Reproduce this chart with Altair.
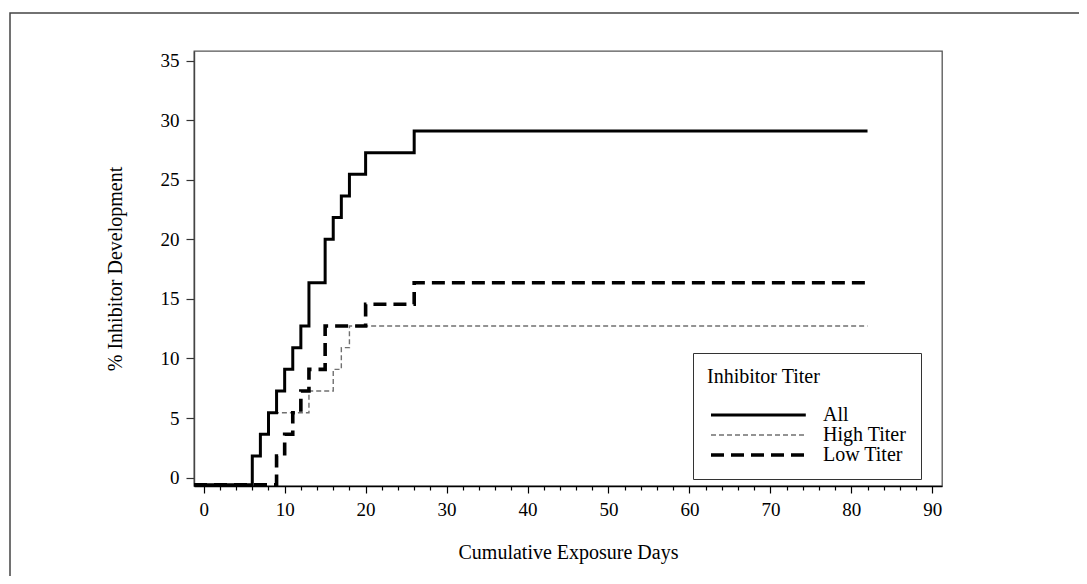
import altair as alt
import pandas as pd

FONT = "Liberation Serif"

series_names = ["All", "High Titer", "Low Titer"]

all_days = [-1.2, 6, 7, 8, 9, 10, 11, 12, 13, 15, 16, 17, 18, 20, 26, 82]
all_pct = [-0.6, 1.82, 3.64, 5.45, 7.27, 9.09, 10.91, 12.73, 16.36, 20.0,
           21.82, 23.64, 25.45, 27.27, 29.09, 29.09]

high_days = [-1.2, 6, 7, 8, 13, 16, 17, 18, 82]
high_pct = [-0.6, 1.82, 3.64, 5.45, 7.27, 9.09, 10.91, 12.73, 12.73]

low_days = [-1.2, 9, 10, 11, 12, 13, 15, 20, 26, 82]
low_pct = [-0.6, 1.82, 3.64, 5.45, 7.27, 9.09, 12.73, 14.55, 16.36, 16.36]

x_ticks = list(range(0, 91, 2))
y_ticks = list(range(0, 36, 5))

rows = []
for name, xs, ys in [("All", all_days, all_pct),
                     ("High Titer", high_days, high_pct),
                     ("Low Titer", low_days, low_pct)]:
    for xv, yv in zip(xs, ys):
        rows.append({"series": name, "day": xv, "pct": yv})
df = pd.DataFrame(rows)

x_scale = alt.Scale(domain=[-1.2, 91.2], nice=False, zero=False)
y_scale = alt.Scale(domain=[-0.7, 35.8], nice=False, zero=False)

legend = alt.Legend(
    title="Inhibitor Titer", orient="none", legendX=499, legendY=302,
    titleFont=FONT, titleFontSize=20, titleFontWeight="normal", titleColor="black",
    titlePadding=18,
    labelFont=FONT, labelFontSize=20, labelColor="black", labelOffset=96, labelLimit=400,
    symbolType="M-0.75,0H11.1", symbolSize=256,
    padding=14, strokeColor="#333", fillColor="white", rowPadding=0,
)

x_axis = alt.Axis(
    values=x_ticks, labelExpr="datum.value % 10 === 0 ? datum.label : ''",
    title="Cumulative Exposure Days", grid=False,
    tickSize={"condition": {"test": "datum.value % 10 === 0", "value": 7}, "value": 4},
    tickColor="black", tickWidth=1.2, labelPadding=7,
    labelFont=FONT, labelFontSize=19, labelColor="black",
    titleFont=FONT, titleFontSize=20, titleFontWeight="normal", titleColor="black",
    titleY=66, titleBaseline="middle",
    domainColor="black", domainWidth=1.6,
)
y_axis = alt.Axis(
    values=y_ticks, title="% Inhibitor Development", grid=False,
    tickSize=8, tickColor="#333", tickWidth=1.2, labelPadding=7,
    labelFont=FONT, labelFontSize=19, labelColor="black",
    titleFont=FONT, titleFontSize=20, titleFontWeight="normal", titleColor="black",
    titleX=-79, titleY=217.5, titleBaseline="middle", titleAlign="center", titleAngle=-90,
    domainColor="#444", domainWidth=1.4,
)

enc = dict(
    x=alt.X("day:Q", scale=x_scale, axis=x_axis),
    y=alt.Y("pct:Q", scale=y_scale, axis=y_axis),
    color=alt.Color("series:N", scale=alt.Scale(type="ordinal", domain=series_names,
                    range=["#000000", "#707070", "#000000"]), legend=legend),
    strokeDash=alt.StrokeDash("series:N", scale=alt.Scale(type="ordinal", domain=series_names,
                    range=[[1, 0], [5, 3], [13, 7]]), legend=legend),
    strokeWidth=alt.StrokeWidth("series:N", scale=alt.Scale(type="ordinal", domain=series_names,
                    range=[3, 1.4, 3.6]), legend=legend),
)

base = alt.Chart(df)
layers = []
for name in ["High Titer", "Low Titer", "All"]:
    layers.append(
        base.transform_filter(alt.datum.series == name)
        .mark_line(interpolate="step-after")
        .encode(**enc)
    )

frame = alt.Chart(pd.DataFrame({"k": [0]})).mark_rect(
    fillOpacity=0, stroke="#444", strokeWidth=1.5
).encode(x=alt.value(-184), x2=alt.value(2000), y=alt.value(-38), y2=alt.value(2000))

chart = alt.layer(frame, *layers).properties(
    width=748, height=435,
    autosize=alt.AutoSizeParams(type="none"),
    padding={"left": 186, "top": 43, "right": 137, "bottom": 90},
    background="white",
).configure_view(stroke="#555", strokeWidth=1.3)

chart.save("out.html", embed_options={"renderer": "svg", "actions": False})
